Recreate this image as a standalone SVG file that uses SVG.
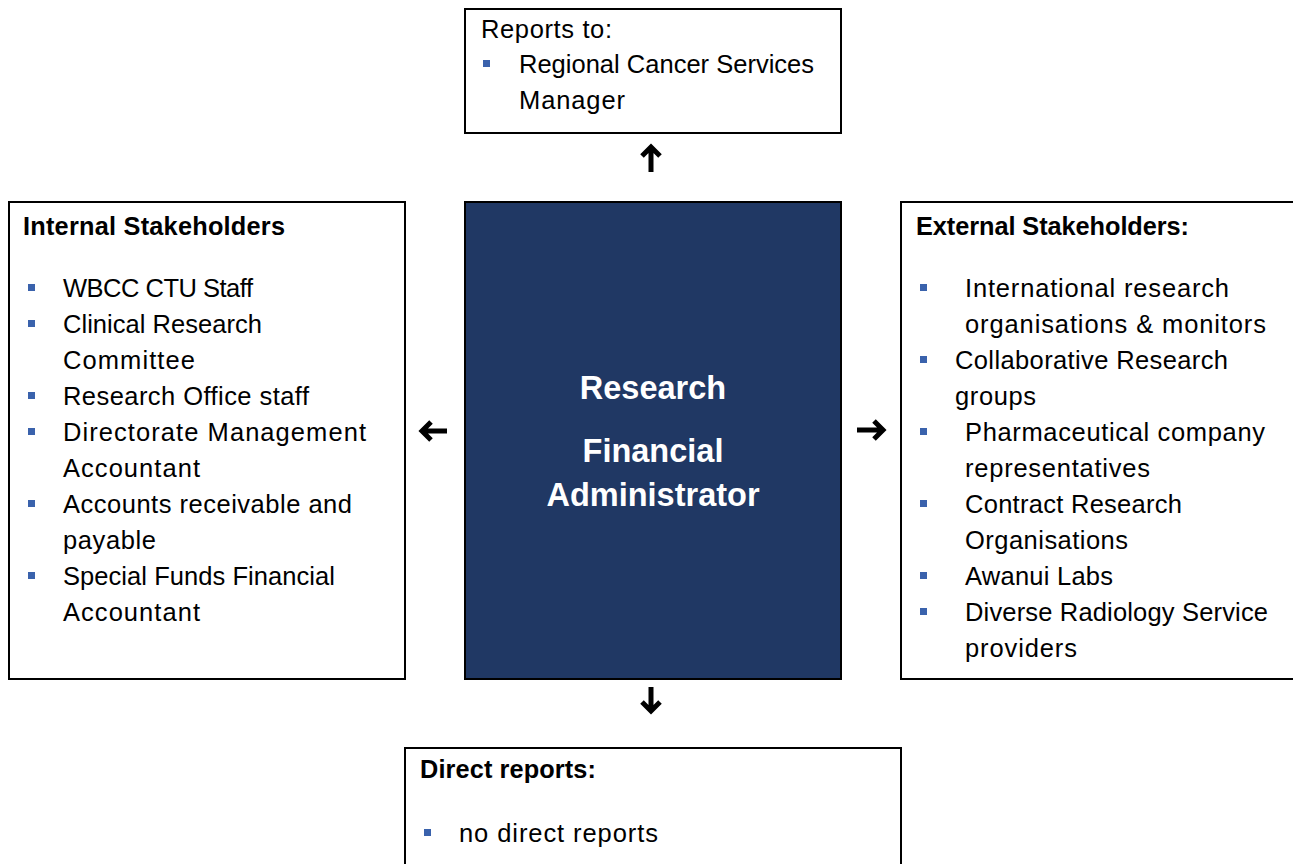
<svg xmlns="http://www.w3.org/2000/svg" width="1293" height="864" viewBox="0 0 1293 864">
  <style>
    .box { fill: #ffffff; stroke: #000000; stroke-width: 2; }
    .core { fill: #203864; stroke: #000000; stroke-width: 2; }
    .t { font-family: "Liberation Sans", Arial, sans-serif; font-size: 25.5px; fill: #000000; }
    .h { font-family: "Liberation Sans", Arial, sans-serif; font-size: 25.3px; font-weight: bold; fill: #000000; }
    .c { font-family: "Liberation Sans", Arial, sans-serif; font-size: 32.5px; font-weight: bold; fill: #ffffff; text-anchor: middle; }
    .b { fill: #3A62AC; }
    .arr { fill: none; stroke: #000000; stroke-width: 5; stroke-linejoin: miter; stroke-linecap: butt; }
  </style>

  <rect width="1293" height="864" fill="#ffffff"/>

  <!-- Reports to -->
  <g id="reports-to">
    <rect class="box" x="465" y="9" width="376" height="124"/>
    <text class="t" x="481" y="38" textLength="131">Reports to:</text>
    <rect class="b" x="483" y="60" width="7" height="7"/>
    <text class="t" x="519" y="73" textLength="295">Regional Cancer Services</text>
    <text class="t" x="519" y="109" textLength="106">Manager</text>
  </g>

  <!-- Internal stakeholders -->
  <g id="internal">
    <rect class="box" x="9" y="202" width="396" height="477"/>
    <text class="h" x="23" y="235" textLength="262">Internal Stakeholders</text>
    <rect class="b" x="28" y="284" width="7" height="7"/>
    <rect class="b" x="28" y="320" width="7" height="7"/>
    <rect class="b" x="28" y="392" width="7" height="7"/>
    <rect class="b" x="28" y="428" width="7" height="7"/>
    <rect class="b" x="28" y="500" width="7" height="7"/>
    <rect class="b" x="28" y="572" width="7" height="7"/>
    <text class="t" x="63" y="297" textLength="190">WBCC CTU Staff</text>
    <text class="t" x="63" y="333" textLength="199">Clinical Research</text>
    <text class="t" x="63" y="369" textLength="132">Committee</text>
    <text class="t" x="63" y="405" textLength="246">Research Office staff</text>
    <text class="t" x="63" y="441" textLength="303">Directorate Management</text>
    <text class="t" x="63" y="477" textLength="137">Accountant</text>
    <text class="t" x="63" y="513" textLength="289">Accounts receivable and</text>
    <text class="t" x="63" y="549" textLength="93">payable</text>
    <text class="t" x="63" y="585" textLength="272">Special Funds Financial</text>
    <text class="t" x="63" y="621" textLength="137">Accountant</text>
  </g>

  <!-- Central role -->
  <g id="role">
    <rect class="core" x="465" y="202" width="376" height="477"/>
    <text class="c" x="653" y="399">Research</text>
    <text class="c" x="653" y="462">Financial</text>
    <text class="c" x="653" y="506">Administrator</text>
  </g>

  <!-- External stakeholders -->
  <g id="external">
    <rect class="box" x="901" y="202" width="400" height="477"/>
    <text class="h" x="916" y="235" textLength="273">External Stakeholders:</text>
    <rect class="b" x="920" y="284" width="7" height="7"/>
    <rect class="b" x="920" y="356" width="7" height="7"/>
    <rect class="b" x="920" y="428" width="7" height="7"/>
    <rect class="b" x="920" y="500" width="7" height="7"/>
    <rect class="b" x="920" y="572" width="7" height="7"/>
    <rect class="b" x="920" y="608" width="7" height="7"/>
    <text class="t" x="965" y="297" textLength="264">International research</text>
    <text class="t" x="965" y="333" textLength="301">organisations &amp; monitors</text>
    <text class="t" x="955" y="369" textLength="273">Collaborative Research</text>
    <text class="t" x="955" y="405" textLength="81">groups</text>
    <text class="t" x="965" y="441" textLength="300">Pharmaceutical company</text>
    <text class="t" x="965" y="477" textLength="185">representatives</text>
    <text class="t" x="965" y="513" textLength="217">Contract Research</text>
    <text class="t" x="965" y="549" textLength="163">Organisations</text>
    <text class="t" x="965" y="585" textLength="148">Awanui Labs</text>
    <text class="t" x="965" y="621" textLength="303">Diverse Radiology Service</text>
    <text class="t" x="965" y="657" textLength="112">providers</text>
  </g>

  <!-- Direct reports -->
  <g id="direct-reports">
    <rect class="box" x="405" y="748" width="496" height="130"/>
    <text class="h" x="420" y="778" textLength="176">Direct reports:</text>
    <rect class="b" x="424" y="829" width="7" height="7"/>
    <text class="t" x="459" y="842" textLength="199">no direct reports</text>
  </g>

  <!-- Connectors -->
  <g id="connectors">
    <path class="arr" d="M651 172 V147 M642 156 L651 147 L660 156"/>
    <path class="arr" d="M651 687 V711 M642 702 L651 711 L660 702"/>
    <path class="arr" d="M447 431 H422 M431 422 L422 431 L431 440"/>
    <path class="arr" d="M857 430 H883 M874 421 L883 430 L874 439"/>
  </g>
</svg>
